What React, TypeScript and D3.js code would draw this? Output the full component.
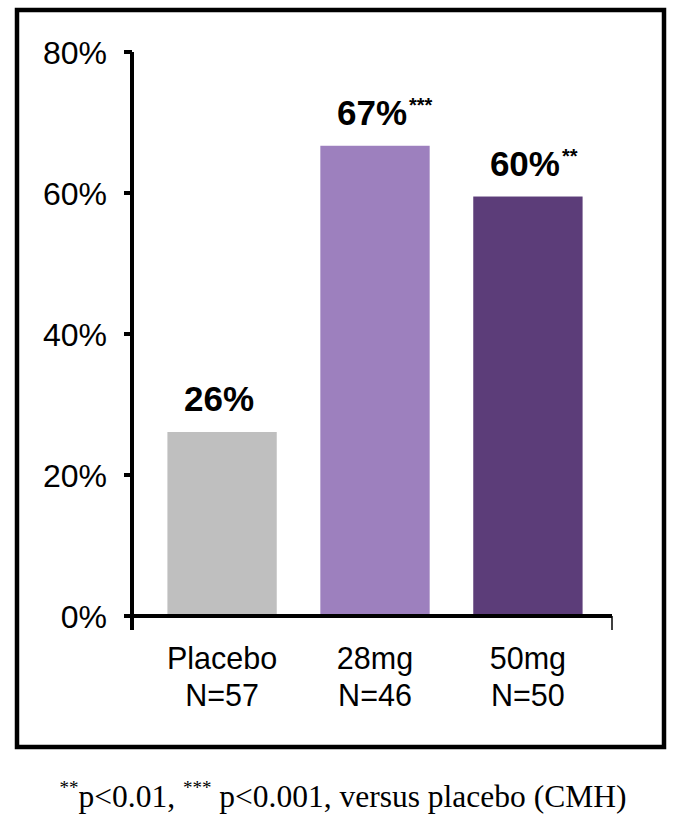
import React from "react";
import * as d3 from "d3";

// groups on the x axis
const groups = ["Placebo", "28mg", "50mg"];
const sampleSizes = ["N=57", "N=46", "N=50"];
// response rate in percent
const responseRates = [26.1, 66.7, 59.5];
const valueLabels = ["26%", "67%", "60%"];
const significance = ["", "***", "**"];
const barColors = ["#bfbfbf", "#9d80be", "#5c3d79"];

const width = 682;
const height = 838;
const sans = "'Liberation Sans', Arial, Helvetica, sans-serif";
const serif = "'Liberation Serif', 'Times New Roman', serif";

const App: React.FC = () => {
  const axisX = 132;
  const axisRight = 612;

  const y = d3.scaleLinear().domain([0, 80]).range([616, 52]);
  const x = d3
    .scaleBand<string>()
    .domain(groups)
    .range([146, 604])
    .paddingInner(0.285)
    .paddingOuter(0.14);

  const labelSize = 35;

  return (
    <svg
      width={width}
      height={height}
      style={{ position: "absolute", left: 0, top: 0 }}
    >
      <rect width={width} height={height} fill="#fff" />
      {/* outer frame */}
      <rect
        x={17}
        y={10}
        width={647}
        height={737}
        fill="none"
        stroke="#000"
        strokeWidth={4.5}
      />

      {/* bars */}
      {groups.map((g, i) => (
        <rect
          key={g}
          x={x(g)}
          y={y(responseRates[i])}
          width={x.bandwidth()}
          height={y(0) - y(responseRates[i])}
          fill={barColors[i]}
        />
      ))}

      {/* y axis */}
      <line
        x1={axisX}
        x2={axisX}
        y1={y(80)}
        y2={y(0)}
        stroke="#000"
        strokeWidth={4}
      />
      {y.ticks(4).map((t) => (
        <g key={t}>
          <line
            x1={axisX - 8}
            x2={axisX}
            y1={y(t)}
            y2={y(t)}
            stroke="#000"
            strokeWidth={4}
          />
          <text
            x={107}
            y={y(t)}
            dy="0.36em"
            textAnchor="end"
            fontFamily={sans}
            fontSize={32}
          >
            {t}%
          </text>
        </g>
      ))}

      {/* x axis */}
      <line
        x1={axisX - 2}
        x2={axisRight}
        y1={y(0)}
        y2={y(0)}
        stroke="#000"
        strokeWidth={4}
      />
      <line
        x1={axisX}
        x2={axisX}
        y1={y(0)}
        y2={y(0) + 14}
        stroke="#000"
        strokeWidth={4}
      />
      <line
        x1={axisRight}
        x2={axisRight}
        y1={y(0)}
        y2={y(0) + 14}
        stroke="#000"
        strokeWidth={1.5}
      />

      {/* category labels */}
      {groups.map((g, i) => {
        const cx = (x(g) ?? 0) + x.bandwidth() / 2;
        return (
          <g key={g} fontFamily={sans} fontSize={30.5} textAnchor="middle">
            <text x={cx} y={669}>
              {g}
            </text>
            <text x={cx} y={706}>
              {sampleSizes[i]}
            </text>
          </g>
        );
      })}

      {/* value labels */}
      {groups.map((g, i) => {
        const cx = (x(g) ?? 0) + x.bandwidth() / 2 - 3;
        const ty = y(responseRates[i]) - 21;
        const textW = labelSize * 2.0;
        return (
          <g key={g} fontFamily={sans} fontWeight="bold">
            <text x={cx} y={ty} textAnchor="middle" fontSize={labelSize}>
              {valueLabels[i]}
            </text>
            {significance[i] && (
              <text x={cx + textW / 2 + 2} y={ty - 13} fontSize={20}>
                {significance[i]}
              </text>
            )}
          </g>
        );
      })}

      {/* footnote */}
      <text
        x={width / 2 + 2}
        y={807}
        textAnchor="middle"
        fontFamily={serif}
        fontSize={31.5}
      >
        <tspan fontSize={19} dy={-13}>
          **
        </tspan>
        <tspan dy={13}>p&lt;0.01, </tspan>
        <tspan fontSize={19} dy={-13}>
          ***
        </tspan>
        <tspan dy={13}> p&lt;0.001, versus placebo (CMH)</tspan>
      </text>
    </svg>
  );
};

export default App;
